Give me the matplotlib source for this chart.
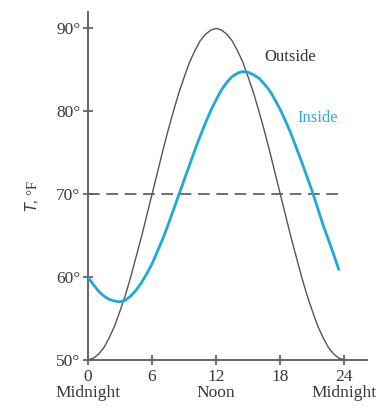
import matplotlib
matplotlib.use("Agg")
import matplotlib.pyplot as plt

# Data (hours after midnight, temperature in °F)
hours_out = [0, 0.5, 1, 1.5, 2, 2.5, 3, 3.5, 4, 4.5, 5, 5.5, 6, 6.5, 7, 7.5, 8, 8.5, 9, 9.5,
             10, 10.5, 11, 11.5, 12, 12.5, 13, 13.5, 14, 14.5, 15, 15.5, 16, 16.5, 17, 17.5,
             18, 18.5, 19, 19.5, 20, 20.5, 21, 21.5, 22, 22.5, 23, 23.5, 24]
temp_out = [50, 50.2, 50.7, 51.5, 52.7, 54.1, 55.9, 57.8, 60, 62.4, 64.8, 67.4, 70, 72.6,
            75.2, 77.7, 80, 82.2, 84.1, 85.9, 87.3, 88.5, 89.3, 89.8, 90, 89.8, 89.3, 88.5,
            87.3, 85.9, 84.1, 82.2, 80, 77.7, 75.2, 72.6, 70, 67.4, 64.8, 62.4, 60, 57.8,
            55.9, 54.1, 52.7, 51.5, 50.7, 50.2, 50]
hours_in = [0, 0.5, 1, 1.5, 2, 2.5, 3, 3.5, 4, 4.5, 5, 5.5, 6, 6.5, 7, 7.5, 8, 8.5, 9, 9.5,
            10, 10.5, 11, 11.5, 12, 12.5, 13, 13.5, 14, 14.5, 15, 15.5, 16, 16.5, 17, 17.5,
            18, 18.5, 19, 19.5, 20, 20.5, 21, 21.5, 22, 22.5, 23, 23.5]
temp_in = [60.0, 59.1, 58.3, 57.7, 57.3, 57.1, 57.0, 57.2, 57.7, 58.4, 59.3, 60.4, 61.6,
           63.1, 64.6, 66.3, 68.1, 69.9, 71.7, 73.5, 75.3, 77.0, 78.6, 80.1, 81.4, 82.6,
           83.5, 84.2, 84.6, 84.8, 84.7, 84.4, 84.0, 83.3, 82.5, 81.4, 80.2, 78.8, 77.3,
           75.6, 73.9, 72.1, 70.3, 68.3, 66.3, 64.5, 62.7, 60.8]
comfort_level = 70
x_ticks = [0, 6, 12, 18, 24]
x_sub = {0: "Midnight", 12: "Noon", 24: "Midnight"}
y_ticks = [50, 60, 70, 80, 90]
y_labels = ["50°", "60°", "70°", "80°", "90°"]

plt.rcParams['font.family'] = ['Liberation Serif', 'DejaVu Serif']
txt = "#3a3a3a"
axc = "#666666"

fig = plt.figure(figsize=(3.79, 4.09), dpi=100)
ax = fig.add_axes([0.232, 0.120, 0.736, 0.851])
ax.set_xlim(0, 26.1)
ax.set_ylim(50, 92)

ax.plot(hours_out, temp_out, color="#555555", lw=1.0, solid_joinstyle="round", zorder=3)
ax.plot(hours_in, temp_in, color="#1fa9d8", lw=2.0, solid_joinstyle="round",
        solid_capstyle="butt", zorder=4)
ax.plot([0, 23.6], [comfort_level, comfort_level], color="#555555", lw=1.2,
        dashes=(7, 4), zorder=2)

for s in ["top", "right"]:
    ax.spines[s].set_visible(False)
for s in ["left", "bottom"]:
    ax.spines[s].set_color(axc)
    ax.spines[s].set_linewidth(1.4)

ax.set_xticks(x_ticks)
ax.set_xticklabels([str(t) for t in x_ticks])
ax.set_yticks(y_ticks)
ax.set_yticklabels(y_labels)
ax.tick_params(direction="inout", length=7, width=1.3, color=axc,
               labelsize=12.5, labelcolor=txt)
ax.tick_params(axis="x", pad=3)
ax.tick_params(axis="y", pad=2)

for t, lab in x_sub.items():
    ax.text(t, -0.095, lab, transform=ax.get_xaxis_transform(), ha="center", va="center",
            fontsize=12.5, color=txt)

ax.text(-0.2, 0.47, r"$\mathit{T}$, °F", transform=ax.transAxes, rotation=90,
        ha="center", va="center", fontsize=10.5, color=txt)

ax.text(18.9, 86.5, "Outside", ha="center", va="center", fontsize=12, color="#333333")
ax.text(21.5, 79.2, "Inside", ha="center", va="center", fontsize=12, color="#2aaee0")

fig.savefig("out.png", dpi=100)
